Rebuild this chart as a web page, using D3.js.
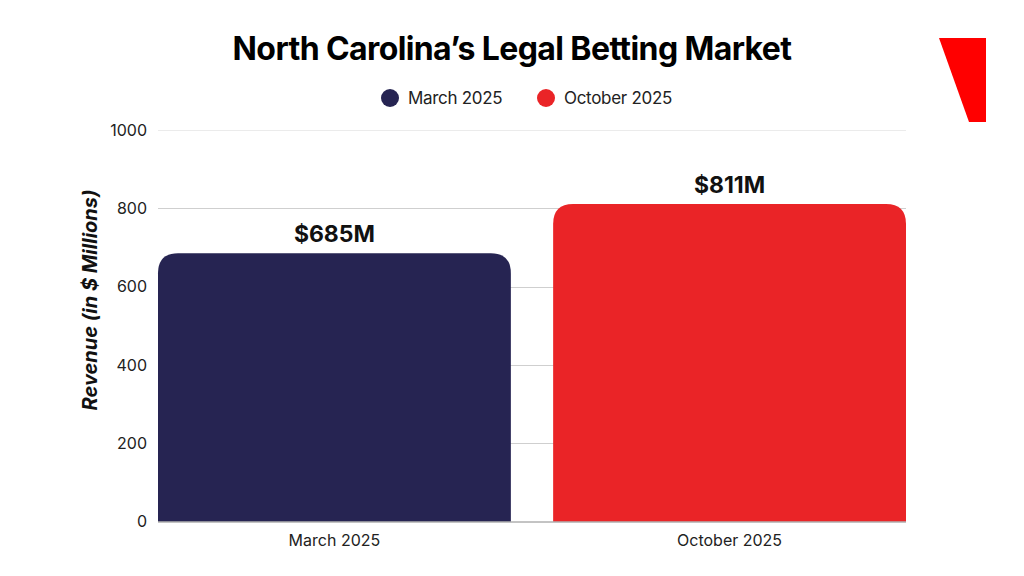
<!DOCTYPE html>
<html><head><meta charset="utf-8">
<script src="https://cdn.jsdelivr.net/npm/d3@7"></script>
<style>
html,body{margin:0;padding:0;background:#fff;}
text{font-family:Inter,"Noto Sans",sans-serif;}
</style></head>
<body><svg id="c" width="1024" height="576"></svg>
<script>
const categories = ["March 2025", "October 2025"];
const values = [685, 811];
const valueLabels = ["$685M", "$811M"];
const yTicks = [0, 200, 400, 600, 800, 1000];
const colors = ["#262452", "#EA2427"];

const svg = d3.select("#c");
const W = 1024, H = 576;
svg.append("rect").attr("width", W).attr("height", H).attr("fill", "#fff");

const x = d3.scaleBand().domain(categories).range([158, 906]).paddingInner(0.107).paddingOuter(0);
const y = d3.scaleLinear().domain([0, 1000]).range([521.5, 130]);

// grid
svg.append("g").selectAll("line").data(yTicks.filter(d => d > 0)).join("line")
  .attr("x1", 158).attr("x2", 906)
  .attr("y1", d => Math.round(y(d)) + 0.5).attr("y2", d => Math.round(y(d)) + 0.5)
  .attr("stroke", d => d === 1000 ? "#ebebeb" : "#cfcfcf").attr("stroke-width", 1);

// y tick labels
svg.append("g").selectAll("text").data(yTicks).join("text")
  .attr("x", 147).attr("y", d => y(d)).attr("dy", "0.35em")
  .attr("text-anchor", "end").attr("font-size", 16).attr("fill", "#222")
  .text(d => d);

// bars with rounded top corners
const r = 20;
function barPath(x0, w, yTop, yBot) {
  return `M${x0},${yBot}V${yTop + r}Q${x0},${yTop} ${x0 + r},${yTop}H${x0 + w - r}Q${x0 + w},${yTop} ${x0 + w},${yTop + r}V${yBot}Z`;
}
svg.append("g").selectAll("path").data(categories).join("path")
  .attr("d", (c, i) => barPath(x(c), x.bandwidth(), y(values[i]), y(0)))
  .attr("fill", (c, i) => colors[i]);

// baseline
svg.append("line").attr("x1", 158).attr("x2", 906).attr("y1", 522).attr("y2", 522)
  .attr("stroke", "#888").attr("stroke-width", 1);

// value labels
svg.append("g").selectAll("text").data(categories).join("text")
  .attr("x", c => x(c) + x.bandwidth() / 2)
  .attr("y", (c, i) => y(values[i]) - 11)
  .attr("text-anchor", "middle").attr("font-size", 23).attr("font-weight", 700)
  .attr("fill", "#111").text((c, i) => valueLabels[i]);

// x labels
svg.append("g").selectAll("text").data(categories).join("text")
  .attr("x", c => x(c) + x.bandwidth() / 2).attr("y", 546)
  .attr("text-anchor", "middle").attr("font-size", 16).attr("fill", "#222")
  .text(c => c);

// y axis title
svg.append("text").attr("transform", "translate(97,300) rotate(-90)")
  .attr("text-anchor", "middle").attr("font-size", 20).attr("font-weight", 700)
  .attr("font-style", "italic").attr("fill", "#111").text("Revenue (in $ Millions)");

// title
svg.append("text").attr("x", 512).attr("y", 60).attr("text-anchor", "middle")
  .attr("font-size", 32).attr("font-weight", 700).attr("fill", "#000")
  .attr("letter-spacing", "-0.6px")
  .text("North Carolina\u2019s Legal Betting Market");

// legend
const legX = [390, 546];
const lg = svg.append("g");
categories.forEach((c, i) => {
  lg.append("circle").attr("cx", legX[i]).attr("cy", 98).attr("r", 9).attr("fill", colors[i]);
  lg.append("text").attr("x", legX[i] + 18).attr("y", 98).attr("dy", "0.35em")
    .attr("font-size", 17).attr("fill", "#222").attr("letter-spacing", "-0.3px").text(c);
});

// logo
svg.append("polygon").attr("points", "939,38 986,38 986,122 969,122").attr("fill", "#FF0000");
</script></body></html>
